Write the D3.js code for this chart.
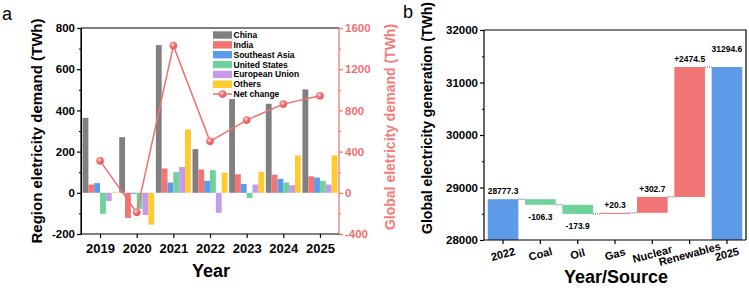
<!DOCTYPE html>
<html>
<head>
<meta charset="utf-8">
<script src="https://cdn.jsdelivr.net/npm/d3@7/dist/d3.min.js"></script>
<style>
  body { margin: 0; background: #fff; }
  svg { font-family: "Liberation Sans", Arial, sans-serif; }
  .axis text { font-weight: bold; }
</style>
</head>
<body>
<script>
// ---- panel a data
var years = [2019, 2020, 2021, 2022, 2023, 2024, 2025];
var china = [364, 270, 717, 212, 455, 432, 502];
var india = [40, -122, 118, 113, 90, 88, 80];
var seAsia = [47, -5, 50, 58, 43, 68, 74];
var us = [-102, -78, 100, 110, -25, 50, 57];
var eu = [-40, -108, 125, -97, 40, 37, 40];
var others = [3, -155, 307, 97, 102, 182, 182];
var netChange = [310, -190, 1429, 500, 706, 861, 942];
var seriesNames = ["China", "India", "Southeast Asia", "United States", "European Union", "Others"];
var seriesColors = ["#808080", "#f47474", "#5b9bec", "#6dd39b", "#c49be9", "#ffca2e"];

// ---- panel b data
var sources = ["2022", "Coal", "Oil", "Gas", "Nuclear", "Renewables", "2025"];
var start2022 = 28777.3;
var changes = [-106.3, -173.9, 20.3, 302.7, 2474.5];
var end2025 = 31294.6;

var W = 749, H = 290;
var svg = d3.select("body").append("svg")
    .attr("width", W)
    .attr("height", H);

var red = "#f26f6f";
var plain = function(d) { return String(d); };

// ================= panel a =================
var a = svg.append("g");
var x = d3.scaleLinear().domain([2018.48, 2025.52]).range([81, 339]);
var yL = d3.scaleLinear().domain([-200, 800]).range([234, 28]);
var yR = d3.scaleLinear().domain([-400, 1600]).range([234, 28]);
var x1 = d3.scaleBand().domain(seriesNames).range([-17.5, 17.5]);

var seriesVals = [china, india, seAsia, us, eu, others];
var barData = [];
years.forEach(function(yr, i) {
  seriesNames.forEach(function(s, j) {
    barData.push({year: yr, name: s, v: seriesVals[j][i], c: seriesColors[j]});
  });
});

a.selectAll(".bar")
    .data(barData)
  .enter().append("rect")
    .attr("class", "bar")
    .attr("x", function(d) { return x(d.year) + x1(d.name); })
    .attr("width", x1.bandwidth())
    .attr("y", function(d) { return yL(Math.max(0, d.v)); })
    .attr("height", function(d) { return Math.abs(yL(d.v) - yL(0)); })
    .attr("fill", function(d) { return d.c; });

// frame top
a.append("line").attr("x1", 81).attr("x2", 339).attr("y1", 28).attr("y2", 28)
    .attr("stroke", "#000").attr("stroke-width", 1.2);

// left axis
var gl = a.append("g").attr("class", "axis").attr("transform", "translate(81,0)")
    .call(d3.axisLeft(yL).tickValues([-200, 0, 200, 400, 600, 800]).tickFormat(plain).tickSize(4).tickPadding(2));
a.append("g").attr("transform", "translate(81,0)")
    .call(d3.axisLeft(yL).tickValues([-100, 100, 300, 500, 700]).tickSize(2).tickFormat(""));

// right axis (red)
var gr = a.append("g").attr("class", "axis").attr("transform", "translate(339,0)")
    .call(d3.axisRight(yR).tickValues([-400, 0, 400, 800, 1200, 1600]).tickFormat(plain).tickSize(4).tickPadding(2));
var grm = a.append("g").attr("transform", "translate(339,0)")
    .call(d3.axisRight(yR).tickValues([-200, 200, 600, 1000, 1400]).tickSize(2).tickFormat(""));

// bottom axis
var gb = a.append("g").attr("class", "axis").attr("transform", "translate(0,234)")
    .call(d3.axisBottom(x).tickValues(years).tickFormat(plain).tickSize(4).tickPadding(6));

[gl, gb].forEach(function(g) {
  g.selectAll("text").style("font-size", "11.5px").attr("fill", "#000");
  g.selectAll("line, path").attr("stroke", "#000").attr("stroke-width", 1.2);
});
gb.selectAll("text").style("font-size", "13px");
gb.select(".domain").attr("d", "M81,0H339");
gl.select(".domain").attr("d", "M0,28V234");
gr.selectAll("text").style("font-size", "11.5px").attr("fill", red);
gr.selectAll("line, path").attr("stroke", red).attr("stroke-width", 1.2);
gr.select(".domain").attr("d", "M0,28V234");
grm.selectAll("line, path").attr("stroke", red);
grm.select(".domain").remove();

// net change line
var defs = svg.append("defs");
var grad = defs.append("radialGradient").attr("id", "ball")
    .attr("cx", "40%").attr("cy", "35%").attr("r", "65%");
grad.append("stop").attr("offset", "0%").attr("stop-color", "#ffe4e4");
grad.append("stop").attr("offset", "45%").attr("stop-color", "#f47878");
grad.append("stop").attr("offset", "100%").attr("stop-color", "#e25050");

var line = d3.line()
    .x(function(d, i) { return x(years[i]); })
    .y(function(d) { return yR(d); });
a.append("path").datum(netChange)
    .attr("d", line)
    .attr("fill", "none")
    .attr("stroke", red)
    .attr("stroke-width", 1.5);
a.selectAll(".dot")
    .data(netChange)
  .enter().append("circle")
    .attr("class", "dot")
    .attr("cx", function(d, i) { return x(years[i]); })
    .attr("cy", function(d) { return yR(d); })
    .attr("r", 3.8)
    .attr("fill", "url(#ball)");

// legend
var legend = a.selectAll(".legend")
    .data(seriesNames.concat(["Net change"]))
  .enter().append("g")
    .attr("class", "legend")
    .attr("transform", function(d, i) { return "translate(213," + (35 + i * 9.85) + ")"; });
legend.each(function(d, i) {
  var g = d3.select(this);
  if (i < seriesNames.length) {
    g.append("rect").attr("x", 0).attr("y", -3.7).attr("width", 19).attr("height", 7.4)
        .attr("fill", seriesColors[i]);
  } else {
    g.append("line").attr("x1", 0).attr("x2", 19).attr("y1", 0).attr("y2", 0)
        .attr("stroke", red).attr("stroke-width", 1.5);
    g.append("circle").attr("cx", 9.5).attr("cy", 0).attr("r", 3.8).attr("fill", "url(#ball)");
  }
  g.append("text").attr("x", 20.5).attr("y", 0).attr("dy", "0.35em")
      .style("font-size", "8.5px").style("font-weight", "bold").text(d);
});

// titles a
a.append("text").attr("transform", "translate(42,131) rotate(-90)")
    .attr("text-anchor", "middle")
    .style("font-size", "15px").style("font-weight", "bold")
    .text("Region eletricity demand (TWh)");
a.append("text").attr("transform", "translate(395,127) rotate(-90)")
    .attr("text-anchor", "middle").attr("fill", "#f47c7c")
    .style("font-size", "14px").style("font-weight", "bold")
    .text("Global eletricity demand (TWh)");
a.append("text").attr("x", 211).attr("y", 277).attr("text-anchor", "middle")
    .style("font-size", "18px").style("font-weight", "bold").text("Year");
a.append("text").attr("x", 2).attr("y", 20).style("font-size", "18px").text("a");

// ================= panel b =================
var b = svg.append("g");
var xb = d3.scaleBand().domain(sources).range([484, 746]).paddingInner(0.18).paddingOuter(0.1);
var yb = d3.scaleLinear().domain([28000, 32000]).range([240, 30]);

var wf = [];
var run = start2022;
wf.push({cat: sources[0], y0: 28000, y1: start2022, total: start2022, kind: "total", label: start2022.toFixed(1)});
changes.forEach(function(c, i) {
  var prev = run;
  run = run + c;
  wf.push({cat: sources[i + 1], y0: prev, y1: run, total: run, kind: c < 0 ? "neg" : "pos",
           label: (c > 0 ? "+" : "") + c.toFixed(1)});
});
wf.push({cat: sources[6], y0: 28000, y1: end2025, total: end2025, kind: "total", label: end2025.toFixed(1)});
var kindColor = {total: "#5d9be9", neg: "#6dd39b", pos: "#f27575"};

b.selectAll(".wbar")
    .data(wf)
  .enter().append("rect")
    .attr("class", "wbar")
    .attr("x", function(d) { return xb(d.cat); })
    .attr("width", xb.bandwidth())
    .attr("y", function(d) { return yb(Math.max(d.y0, d.y1)); })
    .attr("height", function(d) { return Math.max(1, Math.abs(yb(d.y0) - yb(d.y1))); })
    .attr("fill", function(d) { return kindColor[d.kind]; });

// connectors
b.selectAll(".conn")
    .data(wf.slice(0, wf.length - 1))
  .enter().append("line")
    .attr("class", "conn")
    .attr("x1", function(d) { return xb(d.cat) + xb.bandwidth(); })
    .attr("x2", function(d, i) { return xb(wf[i + 1].cat); })
    .attr("y1", function(d) { return yb(d.total); })
    .attr("y2", function(d) { return yb(d.total); })
    .attr("stroke", "#555")
    .attr("stroke-width", 1)
    .attr("stroke-dasharray", "1,1");

// value labels
b.selectAll(".vlab")
    .data(wf)
  .enter().append("text")
    .attr("class", "vlab")
    .attr("x", function(d) { return xb(d.cat) + xb.bandwidth() / 2; })
    .attr("y", function(d, i) {
      if (d.kind === "neg") return yb(Math.min(d.y0, d.y1)) + 15;
      if (i === wf.length - 1) return yb(d.y1) - 15;
      return yb(Math.max(d.y0, d.y1)) - 5;
    })
    .attr("text-anchor", "middle")
    .style("font-size", "8.5px").style("font-weight", "bold")
    .text(function(d) { return d.label; });

// frame
b.append("path").attr("d", "M484,30H746V240").attr("fill", "none")
    .attr("stroke", "#000").attr("stroke-width", 1.2);

var gbl = b.append("g").attr("class", "axis").attr("transform", "translate(484,0)")
    .call(d3.axisLeft(yb).tickValues([28000, 29000, 30000, 31000, 32000]).tickFormat(plain).tickSize(4).tickPadding(2));
b.append("g").attr("transform", "translate(484,0)")
    .call(d3.axisLeft(yb).tickValues([28500, 29500, 30500, 31500]).tickSize(2).tickFormat(""))
    .select(".domain").remove();
var gbb = b.append("g").attr("class", "axis").attr("transform", "translate(0,240)")
    .call(d3.axisBottom(xb).tickSize(4).tickPadding(4));
[gbl, gbb].forEach(function(g) {
  g.selectAll("text").style("font-size", "11.5px").attr("fill", "#000");
  g.selectAll("line, path").attr("stroke", "#000").attr("stroke-width", 1.2);
});
gbb.select(".domain").attr("d", "M484,0H746");
gbl.select(".domain").attr("d", "M0,30V240");
gbb.selectAll("text")
    .style("font-size", "11px")
    .attr("y", 0).attr("dy", "0.35em")
    .attr("transform", "translate(0,14) rotate(-15)")
    .attr("text-anchor", "middle");

b.append("text").attr("transform", "translate(432,118) rotate(-90)")
    .attr("text-anchor", "middle")
    .style("font-size", "14px").style("font-weight", "bold")
    .text("Global electricity generation (TWh)");
b.append("text").attr("x", 616).attr("y", 283).attr("text-anchor", "middle")
    .style("font-size", "18px").style("font-weight", "bold").text("Year/Source");
b.append("text").attr("x", 403).attr("y", 18).style("font-size", "18px").text("b");
</script>
</body>
</html>
